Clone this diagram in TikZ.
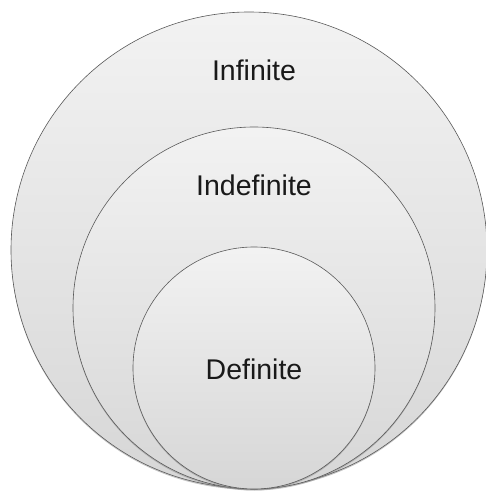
\documentclass[tikz,border=0pt]{standalone}
\usepackage{fontspec}
\setmainfont{Liberation Sans}
\usetikzlibrary{shadows}
\tikzset{
  ring/.style={circle, draw=gray!70!black, line width=.6pt, inner sep=0pt,
    top color=gray!10, bottom color=gray!32,
    drop shadow={shadow xshift=0pt, shadow yshift=-1.5pt, opacity=.45}},
  word/.style={font=\fontsize{28.5}{33}\selectfont, text=black!90}
}
\begin{document}
\begin{tikzpicture}[x=1pt,y=1pt]
\useasboundingbox (0,0) rectangle (486,491);
\node[ring, minimum size=476pt] (infinite) at (249,241) {};
\node[ring, minimum size=362pt] (indefinite) at (254,183) {};
\node[ring, minimum size=242pt] (definite) at (254,123) {};
\node[word] (infinitetext) at (254,421) {Infinite};
\node[word] (indefinitetext) at (254,306) {Indefinite};
\node[word] (definitetext) at (254,122) {Definite};
\end{tikzpicture}
\end{document}
